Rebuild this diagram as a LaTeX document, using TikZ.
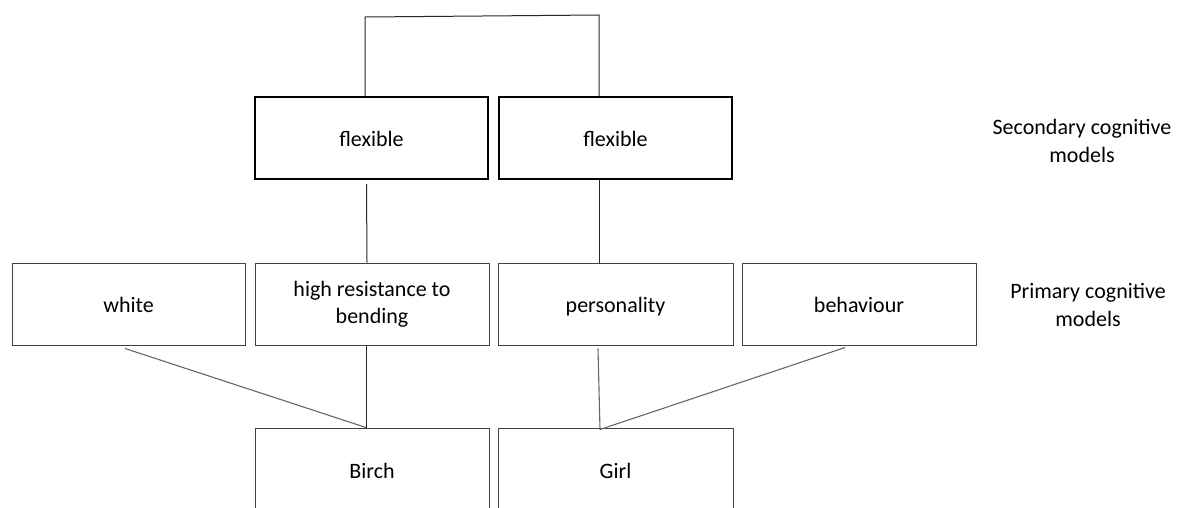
\documentclass[tikz,border=0pt]{standalone}
\usepackage{fontspec}
\setmainfont{Carlito}
\begin{document}
\begin{tikzpicture}[x=1pt,y=-1pt,
  box/.style={draw=black!75,line width=1pt,rectangle,minimum width=234pt,minimum height=82pt,inner sep=0pt,align=center,font=\fontsize{22}{27}\selectfont},
  one/.style={text height=16pt,text depth=0pt},
  thickbox/.style={box,one,draw=black,line width=2pt,minimum width=233pt,minimum height=82pt},
  lab/.style={align=center,font=\fontsize{22}{28}\selectfont,inner sep=0pt},
  conn/.style={draw=black!85,line width=1pt},
  diag/.style={draw=black!60,line width=1.1pt}]
\useasboundingbox (0,0) rectangle (1184,507);
\clip (0,0) rectangle (1184,507);
% secondary
\node[thickbox] (flexL) at (371.5,138) {flexible};
\node[thickbox] (flexR) at (615.5,138) {flexible};
% primary
\node[box,one,minimum width=233pt] (white) at (128.5,304) {white};
\node[box] (high) at (372,304) {high resistance to\\bending};
\node[box,one,minimum width=235pt] (pers) at (615.5,304) {personality};
\node[box,one] (beh) at (859,304) {behaviour};
% bottom
\node[box,one,minimum height=84pt] (birch) at (372,470) {Birch};
\node[box,one,minimum width=235pt,minimum height=84pt] (girl) at (615.5,470) {Girl};
% labels
\node[lab] (sec) at (1082,141) {Secondary cognitive\\models};
\node[lab] (prim) at (1088,305) {Primary cognitive\\models};
% top connector
\coordinate (topL) at (365,17);
\coordinate (topR) at (599,15);
\draw[conn] (topL |- flexL.north) -- (topL) -- (topR) -- (topR |- flexR.north);
% secondary to primary
\draw[conn] ([xshift=-5pt,yshift=-4pt]flexL.south) -- ([xshift=-5pt]high.north);
\draw[conn] ([xshift=-16.5pt]flexR.south) -- ([xshift=-16.5pt]pers.north);
% primary to bottom
\draw[diag] ([xshift=-3.5pt,yshift=-3pt]white.south) -- ([xshift=-6pt]birch.north);
\draw[conn] ([xshift=-6pt]high.south) -- ([xshift=-6pt]birch.north);
\draw[diag] ([xshift=-17.5pt,yshift=-3pt]pers.south) -- ([xshift=-15.5pt,yshift=-2pt]girl.north);
\draw[diag] ([xshift=-14pt,yshift=-2pt]beh.south) -- ([xshift=-15.5pt,yshift=-2pt]girl.north);
\end{tikzpicture}
\end{document}
